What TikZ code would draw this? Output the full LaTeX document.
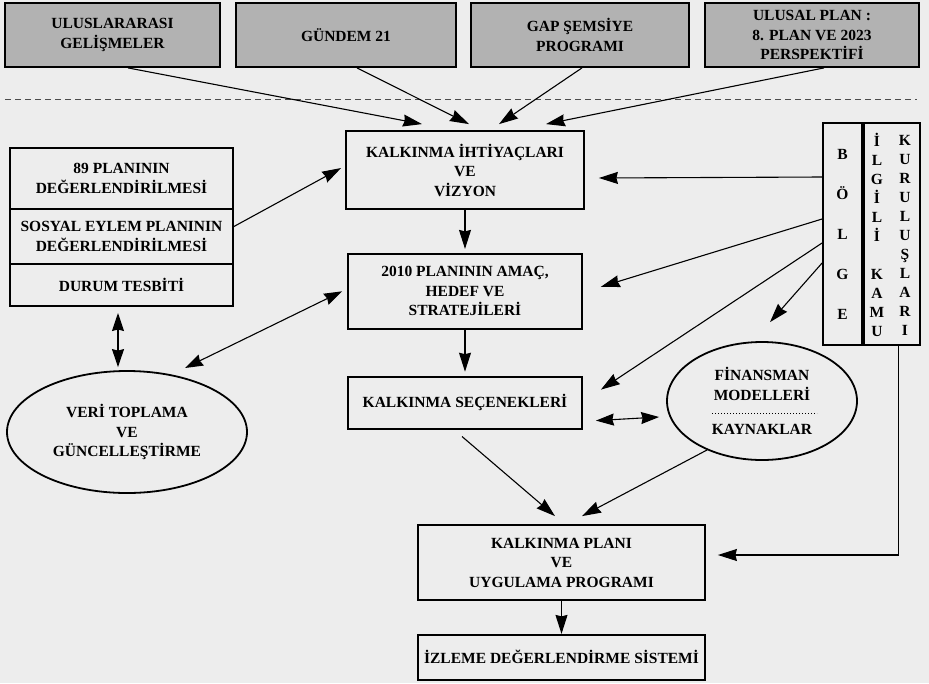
\documentclass[tikz,border=0pt]{standalone}
\usepackage{fontspec}
\setmainfont{Liberation Serif}
\usetikzlibrary{positioning, shapes.geometric, arrows.meta}
\newcommand{\boxfont}{\fontsize{15.5}{19.5}\selectfont\bfseries}
\newcommand{\colfont}[1]{\fontsize{15.5}{#1}\selectfont\bfseries}
\tikzstyle{graybox} = [rectangle, minimum height=64pt, text centered, align=center, draw=black, line width=1.8pt, fill=black!30, font=\boxfont, inner sep=2pt]
\tikzstyle{process} = [rectangle, text centered, align=center, draw=black, line width=1.8pt, font=\boxfont, inner sep=2pt]
\tikzstyle{oval} = [ellipse, text centered, align=center, draw=black, line width=1.8pt, font=\boxfont, inner sep=0pt]
\tikzstyle{arrow} = [line width=1.1pt,->,>={Stealth[length=19pt,width=12pt,inset=1.5pt]}]
\tikzstyle{dblarrow} = [line width=1.1pt,<->,>={Stealth[length=18pt,width=12pt,inset=1.5pt]}]

\begin{document}
\begin{tikzpicture}[x=1pt, y=-1pt]

    \useasboundingbox (0,0) rectangle (929,683);
    \fill[black!7] (0,0) rectangle (929,683);

    % Top boxes
    \node (ulus) [graybox, minimum width=215pt] at (112.5,35) {ULUSLARARASI\\GELİŞMELER};
    \node (gundem) [graybox, minimum width=220pt] at (346,35) {GÜNDEM 21};
    \node (gap) [graybox, minimum width=218pt] at (580,35) {GAP ŞEMSİYE\\PROGRAMI};
    \node (ulusal) [graybox, minimum width=214pt] at (812,35) {ULUSAL PLAN :\\8. PLAN VE 2023\\PERSPEKTİFİ};

    % Dashed line
    \coordinate (dashl) at (5,99);
    \coordinate (dashr) at (917,99);
    \draw [black!70, line width=0.9pt, dash pattern=on 6pt off 4pt] (dashl) -- (dashr);

    % Center column
    \node (ihtiyac) [process, minimum width=238pt, minimum height=78pt] at (465,170) {KALKINMA İHTİYAÇLARI\\VE\\VİZYON};
    \node (amac) [process, minimum width=234pt, minimum height=75pt, below=43pt of ihtiyac] {2010 PLANININ AMAÇ,\\HEDEF VE\\STRATEJİLERİ};
    \node (secenek) [process, minimum width=234pt, minimum height=52pt, below=46pt of amac] {KALKINMA SEÇENEKLERİ};
    \node (plan) [process, minimum width=287pt, minimum height=75pt] at (561.5,562.5) {KALKINMA PLANI\\VE\\UYGULAMA PROGRAMI};
    \node (izleme) [process, minimum width=287pt, minimum height=45pt, below=33pt of plan] {İZLEME DEĞERLENDİRME SİSTEMİ};

    % Left stack
    \node (deger89) [process, outer sep=0pt, minimum width=223pt, minimum height=61pt] at (121.5,178.5) {89 PLANININ\\DEĞERLENDİRİLMESİ};
    \node (sosyal) [process, outer sep=0pt, minimum width=223pt, minimum height=55pt, below=0pt of deger89] {SOSYAL EYLEM PLANININ\\DEĞERLENDİRİLMESİ};
    \node (durum) [process, outer sep=0pt, minimum width=223pt, minimum height=42pt, below=0pt of sosyal] {DURUM TESBİTİ};
    \node (veri) [oval, minimum width=240pt, minimum height=122pt] at (127,432) {VERİ TOPLAMA\\VE\\GÜNCELLEŞTİRME};

    % Right side
    \node (finans) [oval, minimum width=190pt, minimum height=118pt] at (762,401) {FİNANSMAN\\MODELLERİ\\[15pt]KAYNAKLAR};
    \draw [dotted, line width=1pt] ([xshift=-50pt,yshift=-12pt]finans.center) -- ([xshift=55pt,yshift=-12pt]finans.center);
    \node (bolge) [process, minimum width=39pt, minimum height=222pt, font=\colfont{40}] at (842.5,234) {B\\Ö\\L\\G\\E};
    \node (kamu) [process, minimum width=56pt, minimum height=222pt, right=0pt of bolge] {};
    \node (ilgili) [align=center, inner sep=0pt, font=\colfont{19}] at (877,235) {İ\\L\\G\\İ\\L\\İ\\[19pt]K\\A\\M\\U};
    \node (kurulus) [align=center, inner sep=0pt, font=\colfont{19}] at (905,235) {K\\U\\R\\U\\L\\U\\Ş\\L\\A\\R\\I};

    % Arrows
    \draw [arrow] ([xshift=15.5pt]ulus.south) -- ([xshift=-43pt,yshift=6pt]ihtiyac.north);
    \draw [arrow] ([xshift=11pt]gundem.south) -- ([xshift=4pt,yshift=6pt]ihtiyac.north);
    \draw [arrow] ([xshift=2pt]gap.south) -- ([xshift=34pt,yshift=6pt]ihtiyac.north);
    \draw [arrow] ([xshift=12pt]ulusal.south) -- ([xshift=81pt,yshift=6pt]ihtiyac.north);

    \draw [arrow, shorten >=4pt] (ihtiyac) -- (amac);
    \draw [arrow, shorten >=4pt] (amac) -- (secenek);
    \draw [arrow] (plan) -- (izleme);

    \draw [arrow] ([yshift=9.5pt]sosyal.east) -- ([xshift=-4pt,yshift=2pt]ihtiyac.west);
    \draw [dblarrow] ([xshift=-3.5pt,yshift=-7pt]durum.south) -- ([xshift=-9pt,yshift=3pt]veri.north);
    \draw [dblarrow] ([xshift=58pt,yshift=64pt]veri.center) -- ([xshift=-5pt]amac.west);

    \draw [arrow] ([yshift=57pt]bolge.west) -- ([xshift=14pt,yshift=-8pt]ihtiyac.east);
    \draw [arrow] ([yshift=15pt]bolge.west) -- ([xshift=18pt,yshift=4.5pt]amac.east);
    \draw [arrow] ([yshift=-9pt]bolge.west) -- ([xshift=18pt,yshift=13pt]secenek.east);
    \draw [arrow] ([yshift=-29pt]bolge.west) -- ([xshift=8pt,yshift=19pt]finans.north);

    \draw [dblarrow] ([xshift=13pt,yshift=-18pt]secenek.east) -- ([xshift=-7pt,yshift=-16pt]finans.west);
    \draw [arrow] ([xshift=-3pt,yshift=-7pt]secenek.south) -- ([xshift=-6.5pt,yshift=8pt]plan.north);
    \draw [arrow] ([xshift=-55pt,yshift=-49pt]finans.center) -- ([xshift=20.5pt,yshift=8pt]plan.north);
    \draw [arrow] ([xshift=7pt]kamu.south) |- ([xshift=12pt,yshift=7.5pt]plan.east);

\end{tikzpicture}
\end{document}
